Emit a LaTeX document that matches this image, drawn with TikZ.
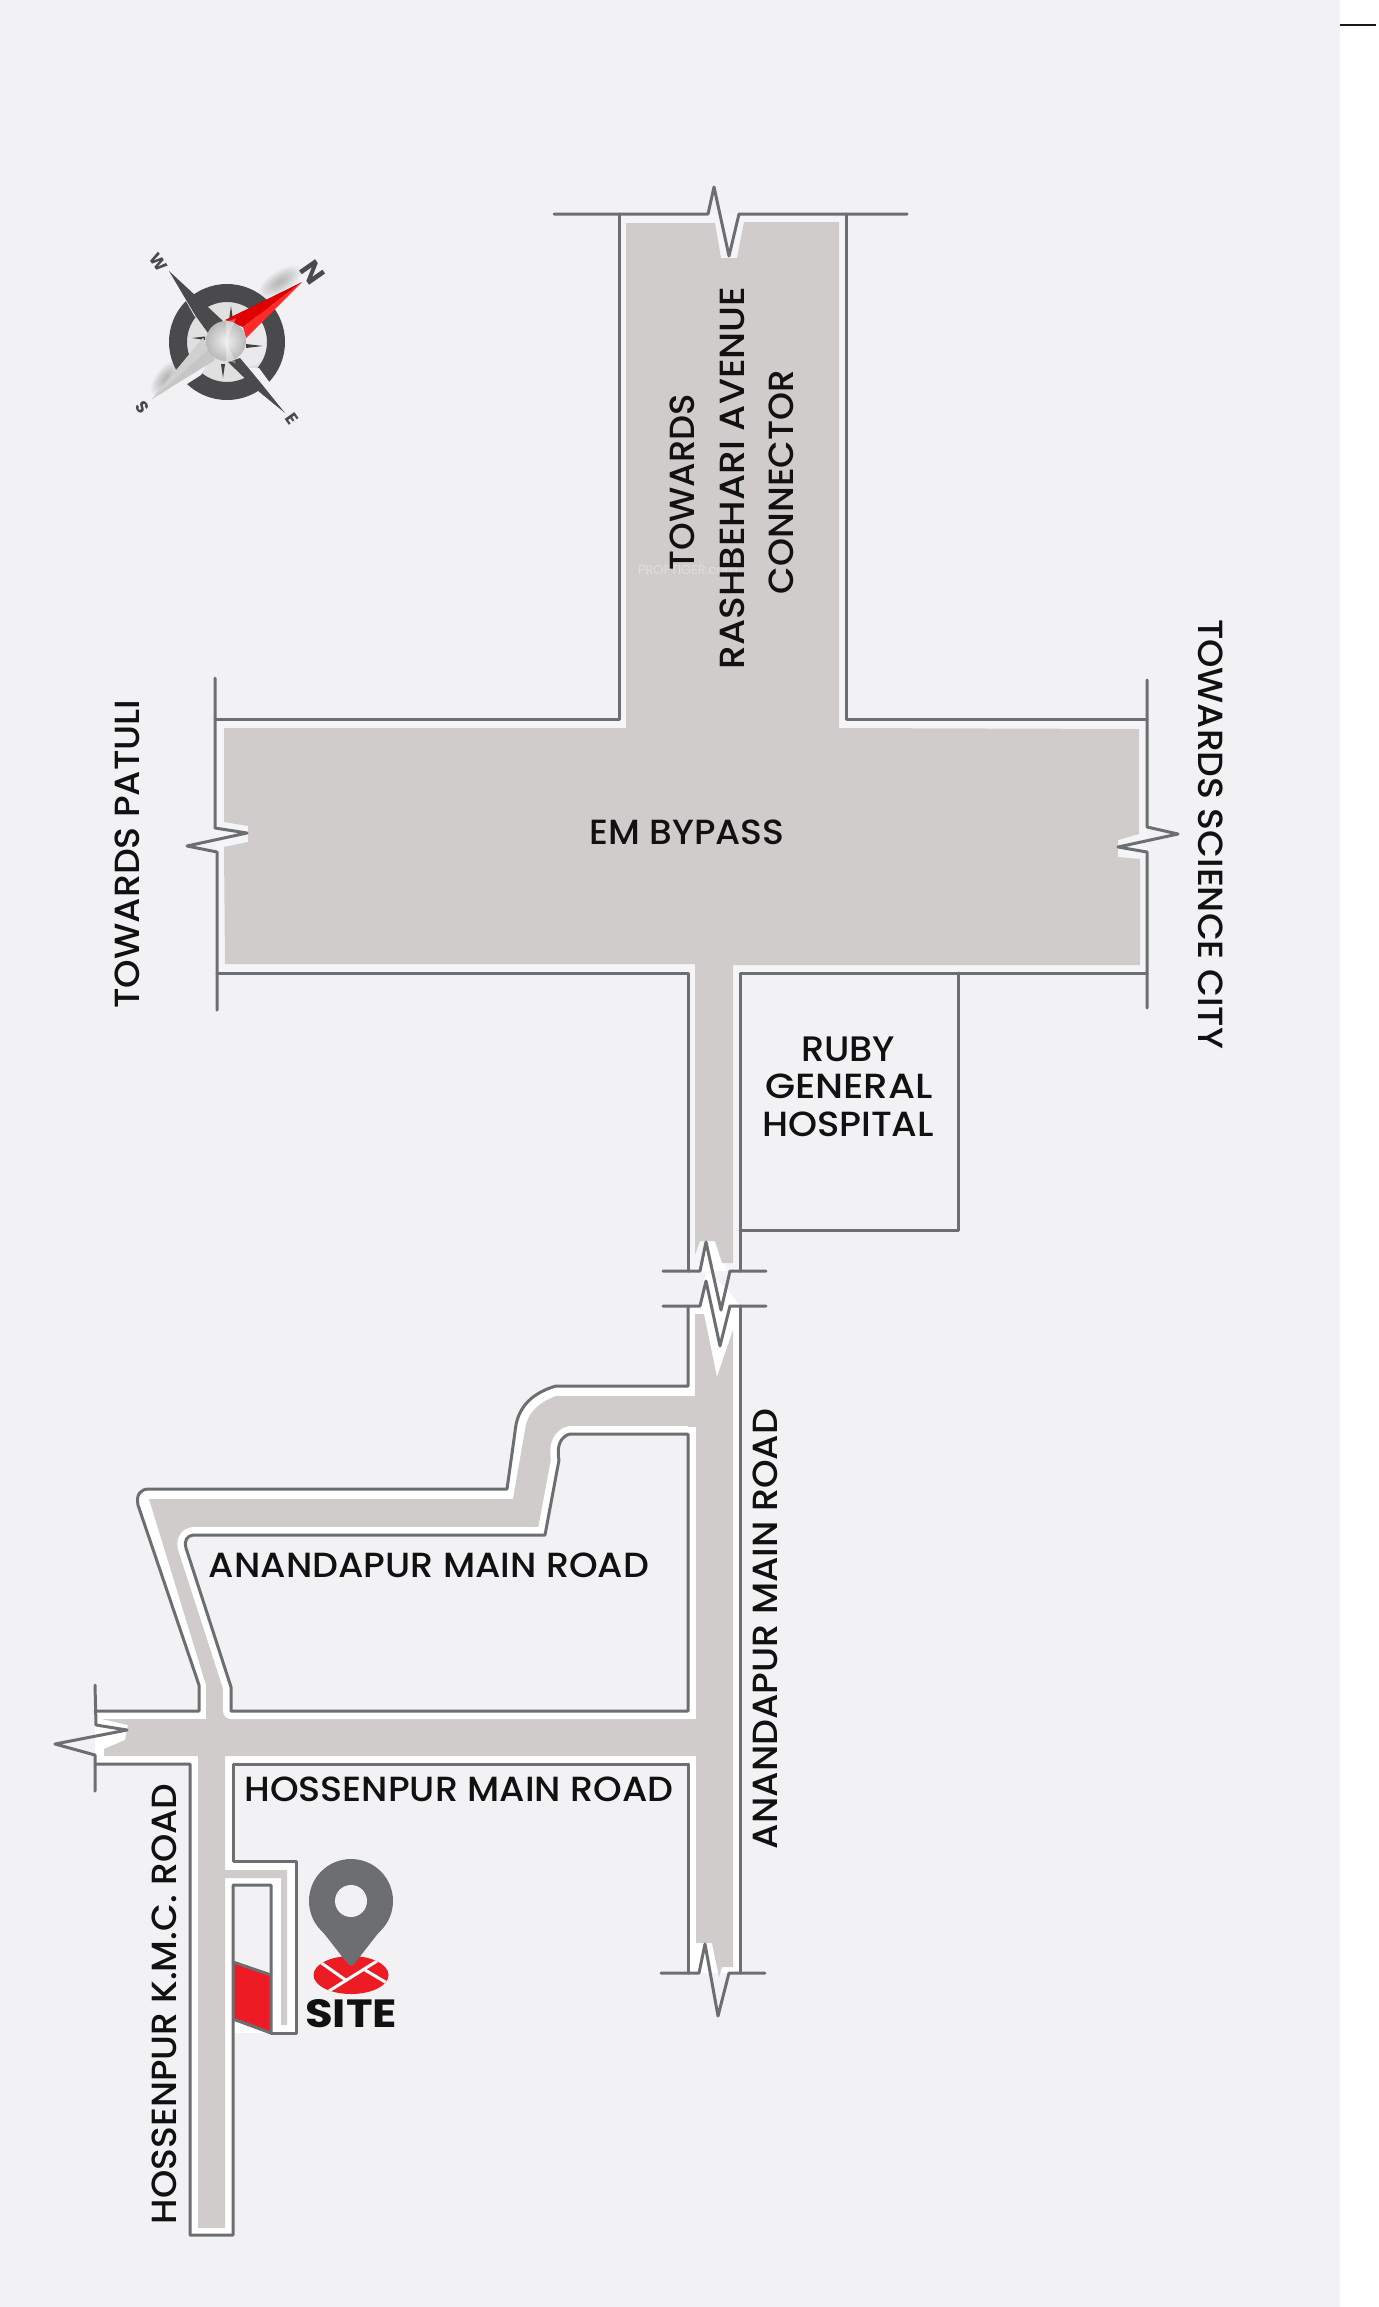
\documentclass[tikz,border=0pt]{standalone}
\usepackage{fontspec}
\usepackage{graphicx}
\setmainfont{Poppins}
\newfontfamily\medfont{Poppins Medium}
\definecolor{panel}{HTML}{F2F2F4}
\definecolor{roadgray}{HTML}{CFCCCB}
\definecolor{edge}{HTML}{6D6E71}
\definecolor{ink}{HTML}{111111}
\definecolor{sitered}{HTML}{ED1C24}
\definecolor{rosedark}{HTML}{4A4A4C}
\definecolor{casing}{HTML}{F5F5F7}
\tikzset{
  outline/.style={draw=edge,line width=1.5pt,line join=round,line cap=round},
  roadfill/.style={fill=roadgray},
  label/.style={text=ink,inner sep=0pt,outer sep=0pt,font=\medfont\fontsize{17}{17}\selectfont},
  rosetext/.style={text=rosedark,inner sep=0pt,rotate=-55,font=\bfseries\fontsize{8.5}{8.5}\selectfont},
}
\newcommand{\fitw}[2]{\resizebox{#1pt}{12.3pt}{#2}}
\begin{document}
\begin{tikzpicture}[x=0.5pt,y=-0.5pt]
\useasboundingbox (0,0) rectangle (1378,2307);
\fill[white] (0,0) rectangle (1378,2307);
\fill[panel] (0,0) rectangle (1340,2307);
\draw[black!90,line width=1pt] (1340,25.5) -- (1376,25.5);

% --- casing of the upper network
\fill[casing] (619,214) -- (846,214) -- (846,719) -- (1147,719) -- (1147,973) -- (740,973) -- (740,1271) -- (688,1271) -- (688,973) -- (215,973) -- (215,719) -- (619,719) -- cycle;
% --- casing of the lower network
\fill[white] (688,1306) -- (740,1306) -- (740,1973) -- (688,1973) -- (688,1764) -- (233,1764) -- (233,1861) -- (296,1861) -- (296,2033) -- (233,2033) -- (233,2235) -- (190,2235) -- (190,1764) -- (95,1764) -- (95,1711) -- (199,1711) -- (199,1685) -- (138,1505) .. controls (136,1495) and (140,1489) .. (149,1489) -- (507,1489) -- (515,1432) .. controls (517,1405) and (535,1392) .. (556,1386) -- (688,1386) -- cycle;
% white around the break marks
\fill[white] (699,1271) -- (706,1236) -- (716,1236) -- (727,1271) -- cycle;
\fill[white] (700,1306) -- (706,1270) -- (728,1290) -- (740,1306) -- cycle;

% --- road surfaces
\fill[roadfill] (626,223) -- (715,223) -- (721,258) -- (737,258) -- (744,222) -- (839,222) -- (839,728) -- (1139,729) -- (1139,834) -- (1118,840) -- (1118,857) -- (1140,859) -- (1140,965) -- (733,965) -- (733,1263) -- (722,1263) -- (715,1241) -- (700,1241) -- (695,1255) -- (695,964) -- (225,964) -- (224,847) -- (248,842) -- (248,826) -- (224,822) -- (224,728) -- (626,728) -- cycle;
\fill[roadfill] (695,1314) -- (704,1314) -- (717,1377) -- (733,1330) -- (733,1967) -- (722,1967) -- (719,1977) -- (712,1943) -- (696,1943) -- (696,1756) -- (225,1756) -- (225,1870) -- (287,1870) -- (287,2025) -- (281,2025) -- (281,1878) -- (225,1878) -- (225,2228) -- (198,2228) -- (198,1756) -- (104,1756) -- (104,1749) -- (125,1740) -- (128,1725) -- (102,1719) -- (206,1719) -- (206,1685) -- (149,1499) -- (513,1499) -- (525,1430) .. controls (527,1412) and (540,1402) .. (556,1396) -- (695,1396) -- cycle;
% the block enclosed by the roads, with its white kerb
\fill[panel,draw=white,line width=8pt,line join=round] (231,1711) -- (688,1711) -- (688,1434) -- (570,1434) .. controls (562,1436) and (556,1444) .. (559,1460) -- (545,1535) -- (193,1535) .. controls (187,1536) and (184,1540) .. (186,1548) -- (231,1687) -- cycle;
\fill[roadfill] (688,1425) rectangle (696,1720);
\fill[panel] (231,1711) -- (688,1711) -- (688,1434) -- (570,1434) .. controls (562,1436) and (556,1444) .. (559,1460) -- (545,1535) -- (193,1535) .. controls (187,1536) and (184,1540) .. (186,1548) -- (231,1687) -- cycle;
\fill[white] (688,1427) rectangle (696,1719);
\fill[roadfill] (696,1396) rectangle (733,1756);

% --- faint watermark
\node[text=white,opacity=0.35,inner sep=0pt,font=\fontsize{7}{7}\selectfont] (mark) at (688,570) {\resizebox{50pt}{!}{PROPTIGER.com}};

% --- the plot beside the road
\fill[panel] (233,1885) -- (271,1885) -- (271,1975) -- (233,1962) -- cycle;
\fill[sitered] (233,1962) -- (271,1975) -- (271,2033) -- (233,2019) -- cycle;

% --- outlines
\draw[outline] (554,214) -- (708,214) -- (714,187) -- (729,256) -- (739,214) -- (907,214);
\draw[outline] (619,214) -- (619,719) -- (215,719);
\draw[outline] (846,214) -- (846,719) -- (1147,719);
\draw[outline] (215,678) -- (215,828) -- (247,833) -- (187,846) -- (217,852) -- (217,1010);
\draw[outline] (1147,680) -- (1147,827) -- (1178,834) -- (1118,847) -- (1147,852) -- (1147,1008);
\draw[outline] (217,973) -- (688,973) -- (688,1271);
\draw[outline] (1147,973) -- (740,973) -- (740,1271);
\draw[outline] (740,1230) -- (958,1230) -- (958,973);
\draw[outline] (663,1271) -- (700,1271) -- (706,1242) -- (721,1310) -- (730,1271) -- (766,1271);
\draw[outline] (663,1306) -- (700,1306) -- (706,1281) -- (720,1346) -- (730,1306) -- (766,1306);
\draw[outline] (688,1306) -- (688,1386) -- (556,1386) .. controls (535,1392) and (517,1405) .. (515,1432) -- (507,1489) -- (149,1489) .. controls (140,1489) and (136,1495) .. (138,1505) -- (199,1685) -- (199,1711) -- (95,1711);
\draw[outline] (688,1434) -- (570,1434) .. controls (562,1436) and (556,1444) .. (559,1460) -- (545,1535) -- (193,1535) .. controls (187,1536) and (184,1540) .. (186,1548) -- (231,1687) -- (231,1711) -- (688,1711) -- (688,1434);
\draw[outline] (740,1306) -- (740,1973);
\draw[outline] (688,1764) -- (688,1973);
\draw[outline] (661,1973) -- (699,1973) -- (705,1944) -- (718,2016) -- (729,1973) -- (765,1973);
\draw[outline] (95,1685) -- (96,1725) -- (127,1730) -- (55,1744) -- (95,1755) -- (95,1791);
\draw[outline] (95,1764) -- (190,1764) -- (190,2235) -- (233,2235) -- (233,1885) -- (271,1885) -- (271,2033) -- (233,2019);
\draw[outline] (271,1975) -- (233,1962);
\draw[outline] (271,2033) -- (296,2033) -- (296,1861) -- (233,1861) -- (233,1764) -- (688,1764);

% --- labels
\node[label,rotate=90] (lblA) at (682,482) {\fitw{88}{TOWARDS}};
\node[label,rotate=90] (lblB) at (732,478) {\fitw{191.5}{RASHBEHARI AVENUE}};
\node[label,rotate=90] (lblC) at (781,482) {\fitw{112}{CONNECTOR}};
\node[label,rotate=90] (lblPatuli) at (127,854) {\fitw{154.5}{TOWARDS PATULI}};
\node[label,rotate=-90] (lblCity) at (1211,834) {\fitw{215}{TOWARDS SCIENCE CITY}};
\node[label] (lblEM) at (687,832) {\fitw{97.5}{EM BYPASS}};
\node[label] (lblRuby) at (848,1049) {\fitw{47}{RUBY}};
\node[label] (lblGen) at (849,1086) {\fitw{84}{GENERAL}};
\node[label] (lblHosp) at (848,1124) {\fitw{86}{HOSPITAL}};
\node[label] (lblAnH) at (429,1565) {\fitw{220}{ANANDAPUR MAIN ROAD}};
\node[label] (lblHoH) at (459,1789) {\fitw{214.5}{HOSSENPUR MAIN ROAD}};
\node[label,rotate=90] (lblAnV) at (765,1629) {\fitw{220}{ANANDAPUR MAIN ROAD}};
\node[label,rotate=90] (lblKmc) at (164,2004) {\fitw{220}{HOSSENPUR K.M.C. ROAD}};

% --- site marker
\fill[sitered] (351,1975) ellipse [x radius=37.5,y radius=19];
\begin{scope}
\clip (351,1975) ellipse [x radius=37.5,y radius=19];
\draw[white,line width=1.5pt] (320,1962) -- (347,1981);
\draw[white,line width=1.5pt] (329,1991) -- (377,1961);
\draw[white,line width=1.5pt] (365,1970) -- (387,1983);
\end{scope}
\fill[edge] (351,1901) circle [radius=42];
\fill[edge,rounded corners=2.5pt] (312,1918) -- (390,1918) -- (351,1968) -- cycle;
\fill[panel] (351,1901) circle [radius=16];
\node[text=ink,inner sep=0pt,font=\bfseries\fontsize{20}{20}\selectfont] (lblSite) at (351,2014) {\resizebox{46pt}{14pt}{SITE}};

% --- compass
\foreach \r in {1,...,10}{
  \fill[black,opacity=0.022,rotate around={33:(280,282)}] (280,282) ellipse [x radius={3+\r*2.2},y radius={1+\r*1.0}];
  \fill[black,opacity=0.022,rotate around={52:(166,378)}] (166,378) ellipse [x radius={3+\r*1.8},y radius={1+\r*0.9}];
}
\fill[gray!16!panel] (227,342) circle [radius=41];
\fill[panel,opacity=0.6] (245,342) circle [radius=25];
\fill[rosedark,even odd rule] (227,342) circle [radius=58] (227,342) circle [radius=40];
% gaps in the ring
\fill[panel] (186,301) -- (195,317) -- (203,312) -- (190,296) -- (183,296) -- cycle;
\fill[panel] (175,380) -- (187,384) -- (201,375) -- (208,362) -- (190,360) -- cycle;
\fill[panel] (259,368) -- (270,383) -- (265,392) -- (250,380) -- (248,368) -- cycle;
\fill[rosedark] (169,271) -- (223,321) -- (208,333) -- (195,315) -- cycle;
\fill[rosedark] (285,413) -- (257,390) -- (228,362) -- (240,358) -- (260,382) -- cycle;
\fill[black!75] (231,306) -- (233,320) -- (229,320) -- cycle;
\fill[black!75] (192,338) -- (205,336.5) -- (205,340) -- cycle;
\fill[black!75] (263,346) -- (246,344) -- (246,348) -- cycle;
\fill[black!75] (223,378) -- (221,364) -- (225,364) -- cycle;
\fill[gray!45] (152,399) -- (203,338) -- (215,360) -- cycle;
\fill[gray!30!panel] (152,399) -- (203,338) -- (209,349) -- cycle;
\fill[red!88!black] (302,282) -- (225,320) -- (243,327) -- cycle;
\fill[red!78!pink] (302,282) -- (243,327) -- (246,338) -- cycle;
\shade[inner color=gray!12,outer color=gray!55] (226,341) circle [radius=20];
\fill[white,opacity=0.35] (226,341) -- (226,321) arc [start angle=90,end angle=60,radius=20] -- cycle;
\fill[white,opacity=0.35] (226,341) -- (226,361) arc [start angle=-90,end angle=-60,radius=20] -- cycle;
\node[rosetext,font=\bfseries\fontsize{14}{14}\selectfont] (cN) at (313,272) {N};
\node[rosetext] (cW) at (159,262) {W};
\node[rosetext] (cS) at (142,407) {S};
\node[rosetext] (cE) at (292,419) {E};
\end{tikzpicture}
\end{document}
